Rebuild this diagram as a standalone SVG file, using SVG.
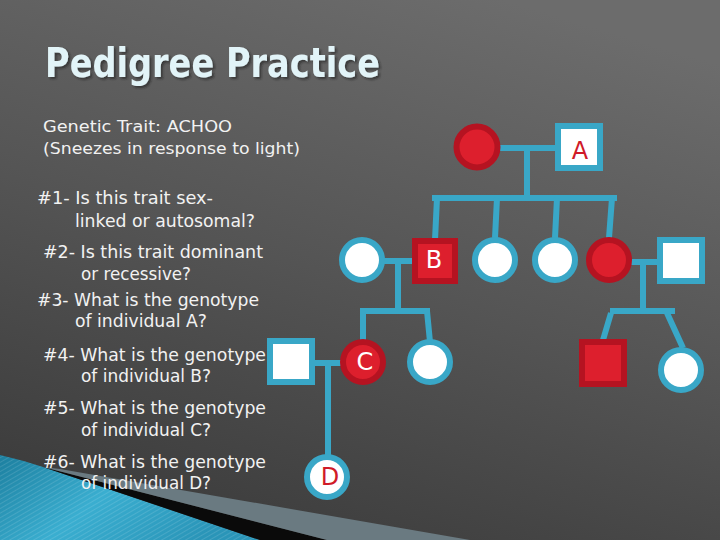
<svg xmlns="http://www.w3.org/2000/svg" width="720" height="540" viewBox="0 0 720 540">
<defs>
<linearGradient id="bg" x1="0.7" y1="0" x2="0.3" y2="1">
<stop offset="0" stop-color="#6c6c6c"/>
<stop offset="0.5" stop-color="#555555"/>
<stop offset="1" stop-color="#3c3c3c"/>
</linearGradient>
<linearGradient id="wave" x1="0" y1="0" x2="1" y2="0.4">
<stop offset="0" stop-color="#1c7f9f"/>
<stop offset="0.5" stop-color="#3aaed0"/>
<stop offset="1" stop-color="#2a95b8"/>
</linearGradient>
<pattern id="stripes" width="4" height="4" patternUnits="userSpaceOnUse" patternTransform="rotate(60)">
<rect width="1" height="4" fill="#ffffff" opacity="0.12"/>
</pattern>
<filter id="shadow" x="-5%" y="-20%" width="110%" height="140%">
<feDropShadow dx="2" dy="2" stdDeviation="1" flood-color="#222222" flood-opacity="0.6"/>
</filter>
</defs>
<style>
.ln{stroke:#39a7c7;stroke-width:6;fill:none;stroke-linecap:butt}
.wc{fill:#ffffff;stroke:#39a7c7;stroke-width:6}
.rc{fill:#dd1f2d;stroke:#b51321;stroke-width:6}
.lbl{font-family:"DejaVu Sans","Liberation Sans",sans-serif;font-size:24px;text-anchor:middle}
.q{font-family:"DejaVu Sans","Liberation Sans",sans-serif;font-size:17px;fill:#f2f2f2}
.g{font-family:"DejaVu Sans","Liberation Sans",sans-serif;font-size:16px;fill:#f2f2f2}
</style>
<rect width="720" height="540" fill="url(#bg)"/>
<!-- bottom-left decoration -->
<path d="M0,455 Q22,460 43,467 L260,540 L0,540 Z" fill="url(#wave)"/>
<path d="M0,455 Q22,460 43,467 L260,540 L0,540 Z" fill="url(#stripes)"/>
<path d="M43,467 L327,540 L260,540 Z" fill="#0a0a0a"/>
<path d="M43,467 L60,469 L470,540 L327,540 Z" fill="#6a7a81"/>
<!-- title -->
<text x="45" y="77" font-family="DejaVu Sans, Liberation Sans, sans-serif" font-weight="bold" font-size="40" fill="#e2f4f8" filter="url(#shadow)" textLength="335" lengthAdjust="spacingAndGlyphs">Pedigree Practice</text>
<!-- texts -->
<text class="g" x="43" y="132" textLength="189" lengthAdjust="spacingAndGlyphs">Genetic Trait: ACHOO</text>
<text class="g" x="43" y="154" textLength="257" lengthAdjust="spacingAndGlyphs">(Sneezes in response to light)</text>
<text class="q" x="37" y="204" textLength="176" lengthAdjust="spacingAndGlyphs">#1- Is this trait sex-</text>
<text class="q" x="75" y="227" textLength="180" lengthAdjust="spacingAndGlyphs">linked or autosomal?</text>
<text class="q" x="43" y="258" textLength="220" lengthAdjust="spacingAndGlyphs">#2- Is this trait dominant</text>
<text class="q" x="81" y="280" textLength="110" lengthAdjust="spacingAndGlyphs">or recessive?</text>
<text class="q" x="37" y="306" textLength="222" lengthAdjust="spacingAndGlyphs">#3- What is the genotype</text>
<text class="q" x="75" y="327" textLength="132" lengthAdjust="spacingAndGlyphs">of individual A?</text>
<text class="q" x="43" y="361" textLength="223" lengthAdjust="spacingAndGlyphs">#4- What is the genotype</text>
<text class="q" x="81" y="382" textLength="130" lengthAdjust="spacingAndGlyphs">of individual B?</text>
<text class="q" x="43" y="414" textLength="223" lengthAdjust="spacingAndGlyphs">#5- What is the genotype</text>
<text class="q" x="81" y="436" textLength="130" lengthAdjust="spacingAndGlyphs">of individual C?</text>
<text class="q" x="43" y="468" textLength="223" lengthAdjust="spacingAndGlyphs">#6- What is the genotype</text>
<text class="q" x="81" y="489" textLength="130" lengthAdjust="spacingAndGlyphs">of individual D?</text>
<!-- connectors -->
<g id="connectors">
<path class="ln" d="M498,148 H557 M527,148 V198 M432,198 H617"/>
<path class="ln" d="M437,198 L435,240 M497,198 L495,238 M557,198 L555,238 M612,198 L609,238"/>
<path class="ln" d="M382,261 H415 M398,261 V311 M360,311 H430 M363,311 V340 M427,311 L430,342"/>
<path class="ln" d="M313,363 H341 M328,363 V455"/>
<path class="ln" d="M630,262 H658 M643,262 V311 M610,311 H675 M611,313 L603,340 M667,313 L683,348"/>
</g>
<!-- nodes -->
<g id="gen1-mother"><circle class="rc" cx="477" cy="147" r="20.5"/></g>
<g id="A"><rect class="wc" x="558" y="126" width="42" height="42"/><text class="lbl" x="580" y="159" fill="#d01a28">A</text></g>
<g id="B-wife"><circle class="wc" cx="362" cy="260" r="20"/></g>
<g id="B"><rect class="rc" x="415" y="241" width="40" height="40"/><text class="lbl" x="434" y="268" fill="#ffffff">B</text></g>
<g id="daughter1"><circle class="wc" cx="495" cy="260" r="20"/></g>
<g id="daughter2"><circle class="wc" cx="555" cy="260" r="20"/></g>
<g id="daughter3"><circle class="rc" cx="609" cy="260" r="20"/></g>
<g id="son-in-law"><rect class="wc" x="660" y="240" width="42" height="41"/></g>
<g id="C-husband"><rect class="wc" x="270" y="341" width="42" height="41"/></g>
<g id="C"><circle class="rc" cx="363" cy="362" r="20"/><text class="lbl" x="365" y="370" fill="#ffffff">C</text></g>
<g id="C-sister"><circle class="wc" cx="430" cy="362" r="20"/></g>
<g id="grandson"><rect class="rc" x="582" y="342" width="42" height="42"/></g>
<g id="granddaughter"><circle class="wc" cx="681" cy="370" r="20"/></g>
<g id="D"><circle class="wc" cx="327" cy="477" r="20"/><text class="lbl" x="330" y="485" fill="#d01a28">D</text></g>
</svg>
